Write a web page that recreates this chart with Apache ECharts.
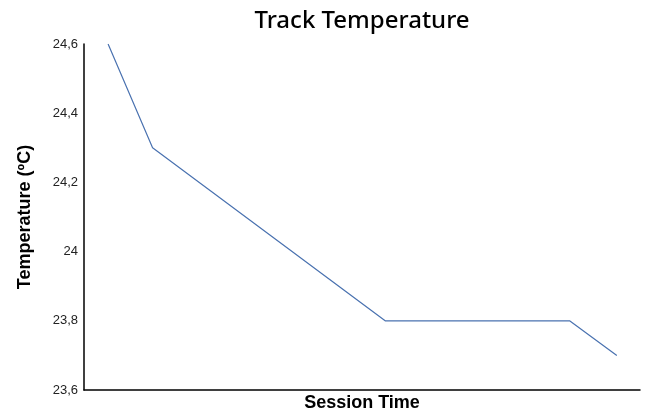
<!DOCTYPE html>
<html><head><meta charset="utf-8">
<script src="https://cdn.jsdelivr.net/npm/echarts@6/dist/echarts.min.js"></script>
<style>html,body{margin:0;padding:0;background:#fff}#c{width:647px;height:417px}</style>
</head><body><div id="c"></div>
<script>
const sessionTime = [2.6, 7.4, 32.5, 52.4, 57.5];
const trackTemp = [24.6, 24.3, 23.8, 23.8, 23.7];
const yTicks = [23.6, 23.8, 24.0, 24.2, 24.4, 24.6];

const chart = echarts.init(document.getElementById('c'));
chart.setOption({
  animation: false,
  title: {
    text: 'Track Temperature',
    left: 357, top: 4, textAlign: 'center',
    textStyle: {fontFamily: 'Noto Sans', fontWeight: 500, fontSize: 24, color: '#000'}
  },
  grid: {left: 84, right: 7, top: 44, bottom: 22, containLabel: false},
  xAxis: {
    type: 'value', min: 0, max: 60,
    name: 'Session Time', nameLocation: 'middle', nameGap: 4,
    nameTextStyle: {fontFamily: 'Liberation Sans', fontWeight: 'bold', fontSize: 18, color: '#000'},
    axisLine: {lineStyle: {color: '#000', width: 1.5}},
    axisTick: {show: false}, axisLabel: {show: false}, splitLine: {show: false}
  },
  yAxis: {
    type: 'value', min: yTicks[0], max: yTicks[yTicks.length-1], interval: 0.2,
    name: 'Temperature (ºC)', nameLocation: 'middle', nameGap: 50, nameRotate: 90,
    nameTextStyle: {fontFamily: 'Liberation Sans', fontWeight: 'bold', fontSize: 18, color: '#000'},
    axisLine: {show: true, lineStyle: {color: '#000', width: 1.5}},
    axisTick: {show: false}, splitLine: {show: false},
    axisLabel: {
      fontFamily: 'Liberation Sans', fontSize: 13, color: '#222', margin: 6,
      formatter: v => {
        const r = Math.round(v * 10) / 10;
        return (Number.isInteger(r) ? String(r) : r.toFixed(1)).replace('.', ',');
      }
    }
  },
  series: [{
    type: 'line',
    data: sessionTime.map((t, i) => [t, trackTemp[i]]),
    showSymbol: false, symbol: 'none',
    lineStyle: {color: '#4a72b0', width: 1.2}
  }]
});
</script></body></html>
